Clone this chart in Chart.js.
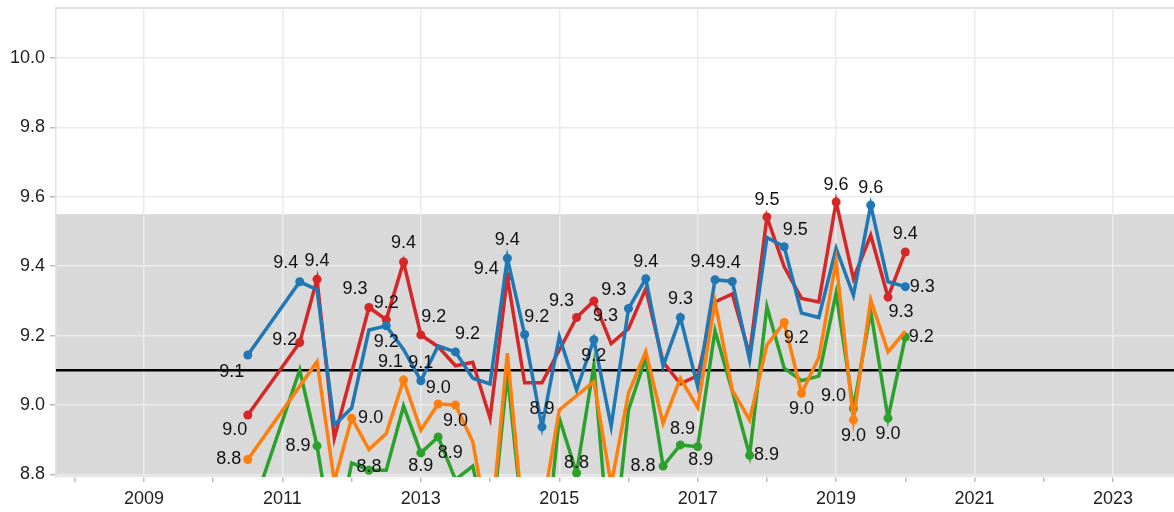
<!DOCTYPE html>
<html>
<head>
  <title>Quarterly ratings</title>
  <script src="https://cdn.jsdelivr.net/npm/chart.js"></script>
  <style>
    body { margin: 0; background: #fff; }
  </style>
</head>
<body>
  <canvas id="chart" width="1174" height="512"></canvas>

  <script>
    // quarterly observations
    const quarters = [2010.5, 2010.75, 2011, 2011.25, 2011.5, 2011.75, 2012, 2012.25, 2012.5, 2012.75,
      2013, 2013.25, 2013.5, 2013.75, 2014, 2014.25, 2014.5, 2014.75, 2015, 2015.25,
      2015.5, 2015.75, 2016, 2016.25, 2016.5, 2016.75, 2017, 2017.25, 2017.5, 2017.75,
      2018, 2018.25, 2018.5, 2018.75, 2019, 2019.25, 2019.5, 2019.75, 2020];

    const red = [8.971, null, null, 9.18, 9.362, 8.904, null, 9.281, 9.246, 9.412,
      9.202, 9.168, 9.113, 9.123, 8.962, 9.369, 9.064, 9.064, null, 9.252,
      9.30, 9.177, 9.22, 9.335, 9.124, 9.061, 9.085, 9.297, 9.32, 9.145,
      9.542, 9.398, 9.307, 9.297, 9.585, 9.364, 9.489, 9.311, 9.441];
    const blue = [9.144, null, null, 9.355, 9.332, 8.942, 8.991, 9.216, 9.228, 9.16,
      9.07, 9.17, 9.153, 9.077, 9.061, 9.423, 9.203, 8.937, 9.197, 9.043,
      9.188, 8.939, 9.278, 9.364, 9.112, 9.252, 9.053, 9.361, 9.356, 9.13,
      9.483, 9.456, 9.265, 9.252, 9.451, 9.316, 9.576, 9.355, 9.341];
    const orange = [8.843, null, null, null, 9.125, 8.78, 8.962, 8.872, 8.918, 9.072,
      8.928, 9.003, 9.0, 8.894, 8.62, 9.149, 8.62, 8.69, 8.986, null,
      9.067, 8.77, 9.034, 9.154, 8.947, 9.077, 8.993, 9.297, 9.043, 8.957,
      9.173, 9.238, 9.034, 9.136, 9.415, 8.957, 9.303, 9.153, 9.213];
    const green = [8.66, null, null, 9.101, 8.882, 8.58, 8.833, 8.812, 8.812, 8.997,
      8.862, 8.908, 8.785, 8.824, 8.6, 9.091, 8.61, 8.48, 8.962, 8.804,
      9.115, 8.52, 8.986, 9.136, 8.824, 8.885, 8.88, 9.214, 9.04, 8.855,
      9.283, 9.106, 9.07, 9.083, 9.323, 8.99, 9.27, 8.962, 9.196];

    const yearTicks = [2008, 2009, 2010, 2011, 2012, 2013, 2014, 2015, 2016, 2017, 2018, 2019, 2020, 2021, 2022, 2023];
    const valueTicks = [8.8, 9.0, 9.2, 9.4, 9.6, 9.8, 10.0];
    const bandTop = 9.55;
    const refLine = 9.1;

    // labelled points: [index, dx, dy] (label offset from the point, px)
    const redLabels = [[0, -13, 15], [3, -15, -2], [4, 0, -18], [7, -14, -18], [8, 0, -17], [9, 0, -19],
      [10, 13, -18], [15, -21, -8], [19, -15, -17], [20, 20, -11], [30, 0, -17], [34, 0, -17],
      [37, 13, 15], [38, 0, -18]];
    const blueLabels = [[0, -16, 17], [3, -14, -19], [8, 0, 16], [10, 0, -18], [12, 12, -18], [15, 0, -18],
      [16, 12, -18], [17, 0, -18], [20, 0, 16], [22, -23, 8], [23, 0, -17], [25, 0, -19],
      [27, -12, -18], [28, -4, -18], [31, 11, -17], [36, 0, -17], [38, 17, 0]];
    const orangeLabels = [[0, -19, 0], [6, 19, 0], [9, -13, -18], [11, 0, -16], [12, 0, 16],
      [31, 12, 16], [32, 0, 16], [35, 0, 16]];
    const greenLabels = [[4, -19, 0], [7, 0, -3], [10, 0, 13], [11, 12, 16], [19, 0, -10], [24, -20, 0],
      [25, 2, -16], [26, 3, 13], [29, 17, 0], [35, -20, -12], [37, 0, 16], [38, 16, 0]];

    const FONT = 'Liberation Sans, Arial, Helvetica, sans-serif';

    function series(values, color, labels) {
      const marked = new Set(labels.map(l => l[0]));
      return {
        data: quarters.map((q, i) => ({ x: q, y: values[i] })),
        borderColor: color,
        backgroundColor: color,
        borderWidth: 3.5,
        pointRadius: ctx => marked.has(ctx.dataIndex) ? 4.5 : 0,
        pointBorderWidth: 0,
        spanGaps: true,
        tension: 0,
        clip: 0,
        labelSpec: labels
      };
    }

    const decorations = {
      id: 'decorations',
      beforeDraw(chart) {
        const { ctx, chartArea: a, scales: { y } } = chart;
        const top = y.getPixelForValue(bandTop);
        ctx.save();
        ctx.fillStyle = '#d9d9d9';
        ctx.fillRect(a.left, top, a.right - a.left, a.bottom - top);
        ctx.strokeStyle = '#e2e2e2';
        ctx.lineWidth = 2;
        ctx.beginPath();
        ctx.moveTo(a.left, a.top);
        ctx.lineTo(a.right, a.top);
        ctx.stroke();
        ctx.restore();
      },
      beforeDatasetsDraw(chart) {
        const { ctx, chartArea: a, scales: { y } } = chart;
        const py = y.getPixelForValue(refLine);
        ctx.save();
        ctx.strokeStyle = '#000';
        ctx.lineWidth = 2.5;
        ctx.beginPath();
        ctx.moveTo(a.left, py);
        ctx.lineTo(a.right, py);
        ctx.stroke();
        ctx.restore();
      },
      afterDatasetsDraw(chart) {
        const { ctx, scales: { x, y } } = chart;
        ctx.save();
        ctx.font = '18px ' + FONT;
        ctx.fillStyle = '#111';
        ctx.textAlign = 'center';
        ctx.textBaseline = 'middle';
        chart.data.datasets.forEach(ds => {
          ds.labelSpec.forEach(([i, dx, dy]) => {
            const v = ds.data[i].y;
            ctx.fillText(v.toFixed(1), x.getPixelForValue(quarters[i]) + dx, y.getPixelForValue(v) + dy);
          });
        });
        ctx.restore();
      }
    };

    function noPad(s) {
      s.paddingTop = 0;
      s.paddingBottom = 0;
      s.paddingLeft = 0;
      s.paddingRight = 0;
    }

    new Chart(document.getElementById('chart'), {
      type: 'line',
      data: {
        datasets: [
          series(orange, '#ff7f0e', orangeLabels),
          series(blue, '#1f77b4', blueLabels),
          series(red, '#d62728', redLabels),
          series(green, '#2ca02c', greenLabels)
        ]
      },
      options: {
        responsive: false,
        animation: false,
        layout: { autoPadding: false, padding: { top: 8, right: 0, left: 0, bottom: 0 } },
        plugins: { legend: { display: false }, tooltip: { enabled: false } },
        scales: {
          x: {
            type: 'linear',
            min: 2007.7285,
            max: 2023.882,
            afterBuildTicks: s => { s.ticks = yearTicks.map(v => ({ value: v })); },
            afterFit: s => { s.height = 35; noPad(s); },
            ticks: {
              autoSkip: false,
              maxRotation: 0,
              padding: 6,
              color: '#222',
              font: { family: FONT, size: 18 },
              callback: v => (v % 2 ? String(v) : '')
            },
            grid: {
              color: ctx => (ctx.tick && ctx.tick.value % 2 ? '#ebebeb' : 'rgba(0,0,0,0)'),
              lineWidth: 1.5,
              tickColor: '#bbbbbb',
              tickLength: 5
            },
            border: { color: '#ebebeb', width: 1.5 }
          },
          y: {
            min: 8.7925,
            max: 10.144,
            afterBuildTicks: s => { s.ticks = valueTicks.map(v => ({ value: v })); },
            afterFit: s => { s.width = 56; noPad(s); },
            ticks: {
              padding: 5,
              color: '#222',
              font: { family: FONT, size: 18 },
              callback: v => v.toFixed(1)
            },
            grid: {
              color: '#ebebeb',
              lineWidth: 1.5,
              tickColor: '#bbbbbb',
              tickLength: 6
            },
            border: { color: '#e2e2e2', width: 1.5 }
          }
        }
      },
      plugins: [decorations]
    });
  </script>
</body>
</html>
